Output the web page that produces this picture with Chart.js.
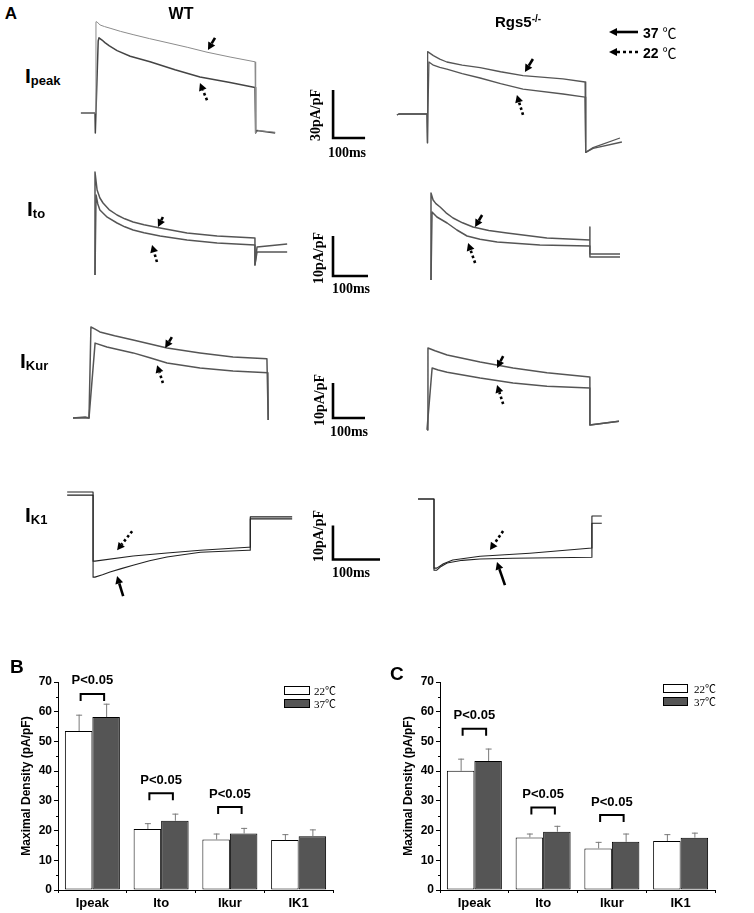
<!DOCTYPE html>
<html><head><meta charset="utf-8">
<script src="https://cdn.jsdelivr.net/npm/chart.js@4.4.1/dist/chart.umd.min.js"></script>
<style>
html,body{margin:0;padding:0;background:#fff;}
#page{position:relative;width:754px;height:913px;overflow:hidden;background:#fff;}
canvas{position:absolute;}
.t{position:absolute;white-space:nowrap;line-height:1;color:#000;}
.sans{font-family:"Liberation Sans",Arial,sans-serif;font-weight:bold;}
.serif{font-family:"Liberation Serif","Times New Roman",serif;font-weight:bold;}
.c{transform:translate(-50%,-50%);}
.r{transform:translate(-50%,-50%) rotate(-90deg);}
.sub{font-size:13px;vertical-align:-2px;}
.lg{position:absolute;font-family:"Liberation Serif","Noto Sans CJK SC",serif;font-size:11px;line-height:1;white-space:nowrap;}
.box{position:absolute;border:1px solid #000;box-sizing:border-box;}
</style></head>
<body><div id="page">
<canvas id="a1w" width="320" height="160" style="left:63px;top:1px"></canvas>
<canvas id="a1r" width="320" height="160" style="left:395px;top:2px"></canvas>
<canvas id="a2w" width="315" height="160" style="left:60px;top:150px"></canvas>
<canvas id="a2r" width="315" height="160" style="left:396px;top:150px"></canvas>
<canvas id="a3w" width="320" height="140" style="left:57px;top:313px"></canvas>
<canvas id="a3r" width="320" height="140" style="left:395px;top:313px"></canvas>
<canvas id="a4w" width="353" height="143" style="left:46px;top:459px"></canvas>
<canvas id="a4r" width="329" height="143" style="left:387px;top:465px"></canvas>
<canvas id="cb" width="360" height="263" style="left:0px;top:650px"></canvas>
<canvas id="cc" width="360" height="263" style="left:382px;top:650px"></canvas>

<div class="t sans c" style="left:11px;top:13px;font-size:17px">A</div>
<div class="t sans c" style="left:181px;top:14px;font-size:16px">WT</div>
<div class="t sans" style="left:495px;top:14px;font-size:15px">Rgs5<span style="font-size:10px;vertical-align:5px">-/-</span></div>
<svg style="position:absolute;left:605px;top:25px" width="36" height="34">
  <line x1="33" y1="7" x2="11" y2="7" stroke="#000" stroke-width="2.6"/>
  <polygon points="4,7 12,3 12,11" fill="#000"/>
  <line x1="33" y1="27" x2="12" y2="27" stroke="#000" stroke-width="2.6" stroke-dasharray="3,3"/>
  <polygon points="4,27 12,23 12,31" fill="#000"/>
</svg>
<div class="t sans" style="left:643px;top:25px;font-size:14px">37 <span style="font-weight:normal;font-family:'Noto Sans CJK SC',serif">℃</span></div>
<div class="t sans" style="left:643px;top:45px;font-size:14px">22 <span style="font-weight:normal;font-family:'Noto Sans CJK SC',serif">℃</span></div>

<div class="t sans" style="left:25px;top:65px;font-size:21px">I<span class="sub">peak</span></div>
<div class="t sans" style="left:27px;top:198px;font-size:21px">I<span class="sub">to</span></div>
<div class="t sans" style="left:20px;top:350px;font-size:21px">I<span class="sub">Kur</span></div>
<div class="t sans" style="left:25px;top:504px;font-size:21px">I<span class="sub">K1</span></div>

<div class="t serif r" style="left:316px;top:115px;font-size:14px">30pA/pF</div>
<div class="t serif c" style="left:347px;top:153px;font-size:14px">100ms</div>
<div class="t serif r" style="left:319px;top:258px;font-size:14px">10pA/pF</div>
<div class="t serif c" style="left:351px;top:289px;font-size:14px">100ms</div>
<div class="t serif r" style="left:320px;top:400px;font-size:14px">10pA/pF</div>
<div class="t serif c" style="left:349px;top:432px;font-size:14px">100ms</div>
<div class="t serif r" style="left:319px;top:536px;font-size:14px">10pA/pF</div>
<div class="t serif c" style="left:351px;top:573px;font-size:14px">100ms</div>

<div class="t sans" style="left:10px;top:657px;font-size:19px">B</div>
<div class="t sans" style="left:390px;top:664px;font-size:19px">C</div>

<div class="box" style="left:284px;top:686px;width:26px;height:9px;background:#fff"></div>
<div class="box" style="left:284px;top:699px;width:26px;height:9px;background:#555"></div>
<div class="lg c" id="lgB1" style="left:325px;top:691px"></div>
<div class="lg c" id="lgB2" style="left:325px;top:704px"></div>
<div class="box" style="left:663px;top:684px;width:25px;height:9px;background:#fff"></div>
<div class="box" style="left:663px;top:697px;width:25px;height:9px;background:#555"></div>
<div class="lg c" id="lgC1" style="left:705px;top:689px"></div>
<div class="lg c" id="lgC2" style="left:705px;top:702px"></div>
</div>
<script>
// ---------- Panel A traces: [time (ms), current (pA/pF)] ----------
const wtIpeak37 = [[-44,0],[0,0],[3,57],[6,57],[16,55],[30,54],[47,53],[80,51],[119,49],[170,46.5],[225,44],[290,41],[350,38],[422,35],[500,32],[502,-12.5],[510,-11],[563,-12]];
const wtIpeak22 = [[-44,0],[0,0],[1,-12.5],[10,45],[12.5,47],[22,45.6],[31,44],[45,42],[69,39],[110,35.5],[172,32],[250,27],[328,22.5],[422,19],[500,16],[502,-12.5],[506,-11],[563,-12.5]];
const rgIpeak37 = [[-94,-0.6],[-88,0],[0,0],[1,-18],[3,39],[20,36.5],[40,34.3],[62,32.5],[110,30.6],[166,29],[230,26.4],[300,24],[425,22],[494,20],[496,-24],[519,-21],[603,-15]];
const rgIpeak22 = [[-94,-0.6],[-88,0],[0,0],[1,-18],[6,32.5],[20,30.5],[40,29.2],[62,28],[110,25.3],[166,22.5],[230,19],[300,15.6],[425,12.5],[494,10.6],[496,-24],[519,-21.5],[609,-17.5]];

const wtIto37 = [[0,-1.25],[0,24.5],[6,20],[14,18],[23,16.75],[40,15.1],[63,13.75],[85,12.8],[109,12],[140,11.3],[186,10.5],[263,9.25],[349,8.5],[457,8],[457,1.25],[463,5.75],[549,6.5]];
const wtIto22 = [[0,-1.25],[3,18.75],[8,16.5],[14,15],[35,13.2],[63,11.75],[85,10.8],[109,10],[140,9.3],[186,8.5],[263,7.5],[349,6.75],[457,6.25],[457,1.25],[463,4.5],[549,4.5]];
const rgIto37 = [[0,-2.5],[0,19.25],[6,17.5],[14,16.6],[26,15.75],[43,14.3],[63,13],[90,11.8],[120,10.75],[165,9.9],[217,9.25],[331,8],[454,7.5],[454,10.75],[454,4],[540,4]];
const rgIto22 = [[0,-2.5],[3,14.5],[17,13.25],[46,11.75],[74,10],[103,8.5],[140,7.7],[189,7],[311,6.25],[454,6],[454,3.25],[540,3.25]];

const wtIkur37 = [[-50,0],[-12,0.3],[0,0],[6,26],[19,25.4],[34,24.6],[80,23.5],[138,22.3],[244,20],[347,18.6],[450,17.4],[556,16.9],[560,-0.6]];
const wtIkur22 = [[-50,0],[0,0],[19,21.4],[56,20.3],[90,19.6],[138,18.6],[190,17.2],[244,15.7],[347,14.3],[450,13.4],[559,12.9],[560,-0.6]];
const rgIkur37 = [[0,-3.4],[3,20],[25,19.2],[63,18],[166,16],[269,14.3],[375,12.9],[509,11.7],[509,-2],[600,-0.9]];
const rgIkur22 = [[0,-3.4],[16,14.3],[35,13.7],[63,13.1],[166,11.4],[269,10],[375,9.1],[509,8.6],[509,-2],[600,-0.9]];

const wtIk137 = [[-55,0.3],[0,0.3],[0,-24.7],[4,-24.7],[20,-24],[36,-23.2],[60,-22.2],[85,-21.2],[120,-19.9],[157,-18.8],[228,-17.4],[330,-16.8],[334,-16.8],[334,-7],[423,-7]];
const wtIk122 = [[-55,-0.6],[0,-0.6],[0,-20],[4,-20],[85,-18.5],[157,-17.6],[228,-16.8],[330,-15.9],[334,-15.9],[334,-7.6],[423,-7.6]];
const rgIk137 = [[-34,0],[0,0],[0,-20.9],[6,-20.9],[15,-19.8],[28,-18.8],[60,-18],[98,-17.6],[168,-17.4],[336,-17.1],[336,-7.1],[357,-7.1]];
const rgIk122 = [[-34,0],[0,0],[0,-20.3],[6,-20.3],[20,-19],[40,-17.9],[98,-16.8],[204,-15.9],[336,-14.4],[336,-5],[357,-5]];

// scale bars: corner time, corner current, length in ms, height in pA/pF
const scaleBarMs = [100,100,100,100];
const scaleBarAmp = [30,10,10,10];
const scaleBarCorner = [[744,-15.6],[680,-1.5],[762.5,0],[509.7,-19.5]];

// ---------- Panels B and C ----------
const categories = ['Ipeak','Ito','Ikur','IK1'];
const seriesLabels = ['22\u2103','37\u2103'];
const b22 = [53.5,20.5,17.0,16.8], b22err = [5.5,2.0,2.0,2.0];
const b37 = [58.2,23.3,19.0,18.1], b37err = [4.5,2.4,1.9,2.3];
const bSig = [66,32.6,27.9,null];
const c22 = [40.1,17.7,14.0,16.5], c22err = [4.1,1.3,2.2,2.3];
const c37 = [43.4,19.6,16.2,17.6], c37err = [4.2,2.0,2.8,1.7];
const cSig = [54.3,27.8,25.2,null];
const sigLabel = 'P<0.05';

Chart.defaults.font.family = '"Liberation Sans", Arial, sans-serif';
const P = a => a.map(([x,y]) => ({x,y}));

function drawArrow(ctx,x1,y1,x2,y2,dashed){
  const ang = Math.atan2(y2-y1,x2-x1), head=7.5, hw=4;
  const bx = x2-head*Math.cos(ang), by = y2-head*Math.sin(ang);
  ctx.save();
  ctx.strokeStyle='#000'; ctx.fillStyle='#000'; ctx.lineWidth=2.6;
  if(dashed) ctx.setLineDash([2.6,2.6]);
  ctx.beginPath(); ctx.moveTo(x1,y1); ctx.lineTo(bx,by); ctx.stroke();
  ctx.setLineDash([]);
  ctx.beginPath(); ctx.moveTo(x2,y2);
  ctx.lineTo(bx+hw*Math.sin(ang), by-hw*Math.cos(ang));
  ctx.lineTo(bx-hw*Math.sin(ang), by+hw*Math.cos(ang));
  ctx.closePath(); ctx.fill();
  ctx.restore();
}
const arrowPlugin = {
  id:'arrows',
  afterDatasetsDraw(chart,args,opts){
    const {ctx,scales:{x,y}} = chart;
    (opts.items||[]).forEach(a=>{
      drawArrow(ctx,x.getPixelForValue(a.tail[0]),y.getPixelForValue(a.tail[1]),
                x.getPixelForValue(a.tip[0]),y.getPixelForValue(a.tip[1]),a.dashed);
    });
  }
};

function traceChart(id, xr, yr, traces, arrows, barIdx){
  const ds = traces.map(tr=>({data:P(tr.d),showLine:true,borderColor:tr.c,borderWidth:tr.w,pointRadius:0,tension:0,fill:false,borderJoinStyle:'round'}));
  if(barIdx!==undefined){
    const [t0,i0] = scaleBarCorner[barIdx];
    ds.push({data:P([[t0,i0+scaleBarAmp[barIdx]],[t0,i0],[t0+scaleBarMs[barIdx],i0]]),showLine:true,borderColor:'#000',borderWidth:2.6,pointRadius:0,tension:0,borderCapStyle:'butt',borderJoinStyle:'miter'});
  }
  new Chart(document.getElementById(id),{
    type:'scatter',
    data:{datasets:ds},
    plugins:[arrowPlugin],
    options:{responsive:false,animation:false,events:[],layout:{padding:0},
      plugins:{legend:{display:false},tooltip:{enabled:false},arrows:{items:arrows}},
      scales:{x:{type:'linear',display:false,min:xr[0],max:xr[1]},y:{type:'linear',display:false,min:yr[0],max:yr[1]}}}
  });
}
const TR='#555';
traceChart('a1w',[-100,900],[-30,70],[{d:wtIpeak37,c:'#8c8c8c',w:1},{d:wtIpeak22,c:'#444',w:1.5}],
  [{tail:[375,47],tip:[353,39.4]},{tail:[350,8],tip:[328,18.75],dashed:true}],0);
traceChart('a1r',[-100,900],[-30,70],[{d:rgIpeak37,c:TR,w:1.3},{d:rgIpeak22,c:TR,w:1.3}],
  [{tail:[331,34.4],tip:[306,26.25]},{tail:[300,-0.6],tip:[281,11.9],dashed:true}]);
traceChart('a2w',[-100,800],[-10,30],[{d:wtIto37,c:TR,w:1.5},{d:wtIto22,c:TR,w:1.5}],
  [{tail:[194,13.25],tip:[180,10.75]},{tail:[177,2],tip:[163,6.25],dashed:true}],1);
traceChart('a2r',[-100,800],[-10,30],[{d:rgIto37,c:TR,w:1.5},{d:rgIto22,c:TR,w:1.5}],
  [{tail:[146,13.75],tip:[126,10.75]},{tail:[126,1.75],tip:[106,6.75],dashed:true}]);
traceChart('a3w',[-100,900],[-10,30],[{d:wtIkur37,c:TR,w:1.5},{d:wtIkur22,c:TR,w:1.5}],
  [{tail:[259,23.1],tip:[238,20]},{tail:[231,10],tip:[213,15.1],dashed:true}],2);
traceChart('a3r',[-100,900],[-10,30],[{d:rgIkur37,c:TR,w:1.5},{d:rgIkur22,c:TR,w:1.5}],
  [{tail:[238,17.7],tip:[219,14.3]},{tail:[238,4],tip:[219,9.4],dashed:true}]);
traceChart('a4w',[-100,650],[-32,10],[{d:wtIk137,c:'#222',w:1.1},{d:wtIk122,c:'#222',w:1.1}],
  [{tail:[83,-11.2],tip:[51,-16.8],dashed:true},{tail:[64,-30.3],tip:[51,-24.4]}],3);
traceChart('a4r',[-100,600],[-32,10],[{d:rgIk137,c:'#222',w:1.1},{d:rgIk122,c:'#222',w:1.1}],
  [{tail:[147,-9.4],tip:[119,-15],dashed:true},{tail:[151,-25.3],tip:[134,-18.5]}]);

// ---------- bar charts ----------
const barExtras = {
  id:'barExtras',
  afterDatasetsDraw(chart,args,opts){
    const {ctx,scales:{x,y}} = chart;
    ctx.save();
    chart.data.datasets.forEach((ds,di)=>{
      chart.getDatasetMeta(di).data.forEach((bar,i)=>{
        const yv=y.getPixelForValue(ds.data[i]), yt=y.getPixelForValue(ds.data[i]+ds.errors[i]);
        ctx.strokeStyle='#7a7a7a'; ctx.lineWidth=1;
        ctx.beginPath(); ctx.moveTo(bar.x+0.5,yv); ctx.lineTo(bar.x+0.5,yt);
        ctx.moveTo(bar.x-2.5,yt+0.5); ctx.lineTo(bar.x+3.5,yt+0.5); ctx.stroke();
      });
    });
    // minor ticks
    ctx.strokeStyle='#000'; ctx.lineWidth=1;
    for(let v=5; v<70; v+=10){
      const py=Math.round(y.getPixelForValue(v))+0.5;
      ctx.beginPath(); ctx.moveTo(x.left-2,py); ctx.lineTo(x.left,py); ctx.stroke();
    }
    // significance brackets
    const m0=chart.getDatasetMeta(0), m1=chart.getDatasetMeta(1);
    ctx.lineWidth=2; ctx.fillStyle='#000';
    ctx.font='bold 13px "Liberation Sans", Arial, sans-serif';
    ctx.textAlign='center'; ctx.textBaseline='middle';
    opts.brackets.forEach((b,i)=>{
      if(b==null) return;
      const xa=m0.data[i].x+2, xb=m1.data[i].x-2, yt=y.getPixelForValue(b);
      ctx.beginPath(); ctx.moveTo(xa,yt+7); ctx.lineTo(xa,yt); ctx.lineTo(xb,yt); ctx.lineTo(xb,yt+7); ctx.stroke();
      ctx.fillText(opts.label,(xa+xb)/2,yt-13);
    });
    ctx.restore();
  }
};
function barChart(id,v22,e22,v37,e37,sig){
  new Chart(document.getElementById(id),{
    type:'bar',
    data:{labels:categories,datasets:[
      {label:seriesLabels[0],data:v22,errors:e22,backgroundColor:'#fff',borderColor:'#000',borderWidth:1,borderSkipped:false},
      {label:seriesLabels[1],data:v37,errors:e37,backgroundColor:'#555',borderColor:'#000',borderWidth:1,borderSkipped:false}]},
    plugins:[barExtras],
    options:{responsive:false,animation:false,events:[],
      layout:{padding:{top:32,right:27,left:0,bottom:0}},
      datasets:{bar:{categoryPercentage:0.8,barPercentage:1.0}},
      plugins:{legend:{display:false},tooltip:{enabled:false},barExtras:{brackets:sig,label:sigLabel}},
      scales:{
        x:{afterFit(s){s.height=23;},grid:{drawOnChartArea:false,tickLength:3,color:'#000'},border:{color:'#000'},
           ticks:{color:'#000',padding:3,font:{size:13,weight:'bold'}}},
        y:{min:0,max:70,afterFit(s){s.width=58;},grid:{drawOnChartArea:false,tickLength:4,color:'#000'},border:{color:'#000'},
           ticks:{stepSize:10,color:'#000',padding:2,font:{size:12,weight:'bold'}},
           title:{display:true,text:'Maximal Density (pA/pF)',color:'#000',font:{size:12,weight:'bold'},padding:{top:19,bottom:0}}}
      }}
  });
}
barChart('cb',b22,b22err,b37,b37err,bSig);
barChart('cc',c22,c22err,c37,c37err,cSig);
document.getElementById('lgB1').textContent=seriesLabels[0];
document.getElementById('lgB2').textContent=seriesLabels[1];
document.getElementById('lgC1').textContent=seriesLabels[0];
document.getElementById('lgC2').textContent=seriesLabels[1];
</script>
</body></html>
